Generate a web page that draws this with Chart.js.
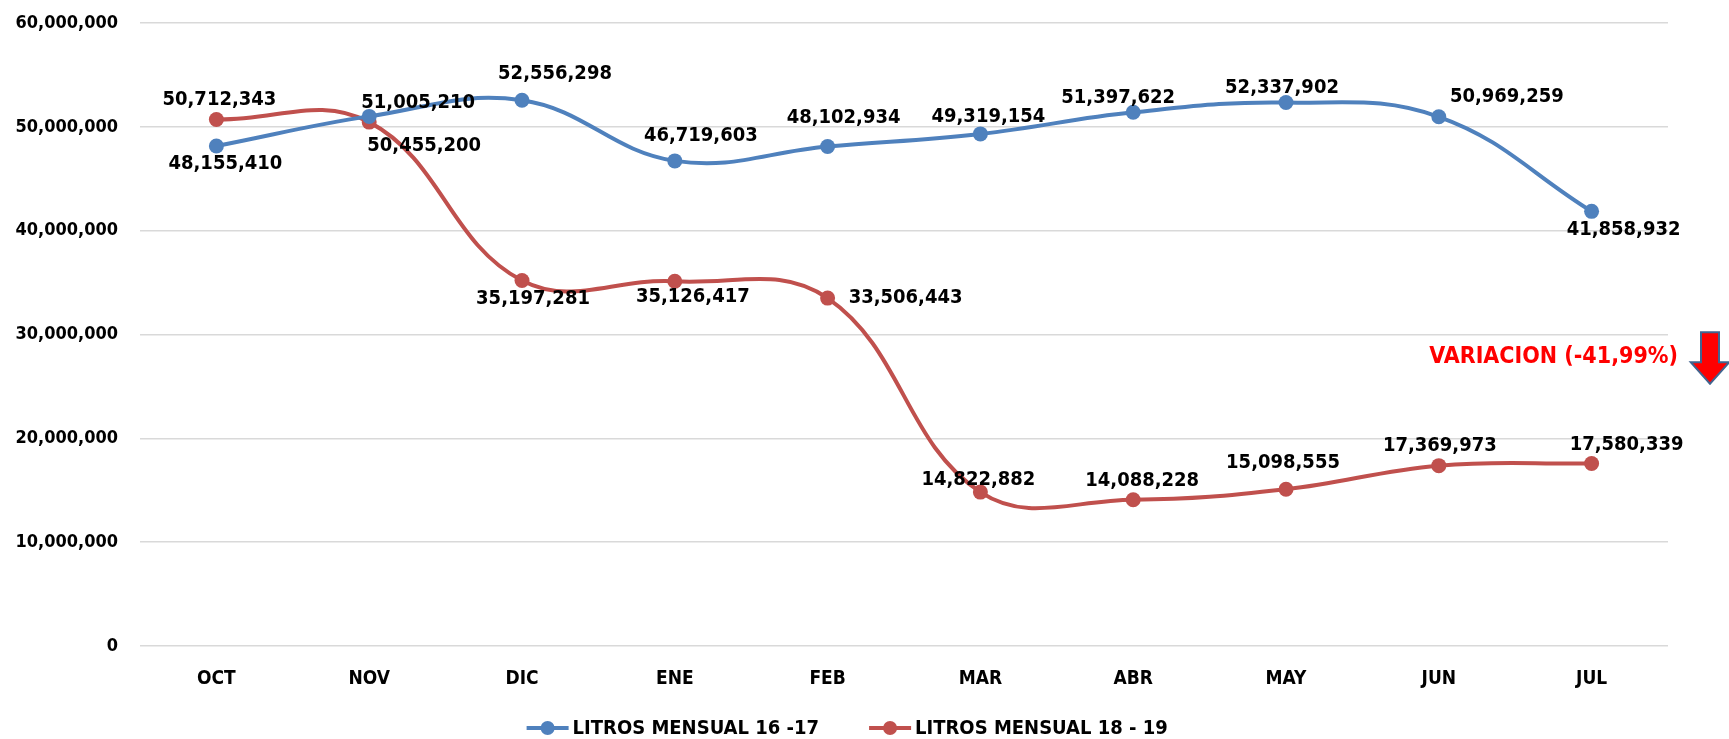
<!DOCTYPE html>
<html>
<head>
<meta charset="utf-8">
<script src="https://cdn.jsdelivr.net/npm/chart.js@4.4.1/dist/chart.umd.min.js"></script>
<style>
    html, body { margin: 0; padding: 0; background: #fff; }
</style>
</head>
<body>
<canvas id="litrosChart" width="1729" height="739"></canvas>
<script>
const months = ['OCT', 'NOV', 'DIC', 'ENE', 'FEB', 'MAR', 'ABR', 'MAY', 'JUN', 'JUL'];
const litros1617 = [48155410, 51005210, 52556298, 46719603, 48102934, 49319154, 51397622, 52337902, 50969259, 41858932];
const litros1819 = [50712343, 50455200, 35197281, 35126417, 33506443, 14822882, 14088228, 15098555, 17369973, 17580339];
const yTicks = [0, 10000000, 20000000, 30000000, 40000000, 50000000, 60000000];
const seriesNames = ['LITROS MENSUAL 16 -17', 'LITROS MENSUAL 18 - 19'];
const variacionText = 'VARIACION (-41,99%)';
const variacionAt = 28000000;

// where each value label sits, relative to its point (px)
const offsets1617 = [[9, 18], [49, -14], [33, -26], [26, -25], [16, -29], [8, -17], [-15, -15], [-4, -15], [68, -20], [32, 18]];
const offsets1819 = [[3, -20], [55, 24], [11, 18], [18, 16], [78, 0], [-2, -12], [9, -19], [-3, -26], [1, -20], [35, -19]];

const FONT = '"DejaVu Sans Condensed", "Liberation Sans Narrow", "DejaVu Sans", sans-serif';
const BLUE = '#4F81BD';
const RED = '#C0504D';

const fmt = v => v.toLocaleString('en-US');

const valueLabels = {
    id: 'valueLabels',
    afterDatasetsDraw(chart) {
        const ctx = chart.ctx;
        ctx.save();
        ctx.font = 'bold 20px ' + FONT;
        ctx.fillStyle = '#000';
        ctx.textAlign = 'center';
        ctx.textBaseline = 'middle';
        chart.data.datasets.forEach((ds, i) => {
            chart.getDatasetMeta(i).data.forEach((pt, j) => {
                const [dx, dy] = ds.labelOffsets[j];
                ctx.fillText(fmt(ds.data[j]), pt.x + dx, pt.y + dy);
            });
        });
        ctx.restore();
    }
};

const bottomLegend = {
    id: 'bottomLegend',
    afterDraw(chart) {
        const ctx = chart.ctx;
        ctx.save();
        ctx.font = 'bold 20px ' + FONT;
        ctx.textBaseline = 'middle';
        ctx.textAlign = 'left';
        const items = chart.data.datasets.map(ds => ({
            text: ds.label, color: ds.borderColor, w: 46 + ctx.measureText(ds.label).width
        }));
        const gap = 50;
        const total = items.reduce((s, it) => s + it.w, 0) + gap * (items.length - 1);
        let x = chart.width * 0.49 - total / 2;
        const y = 728;
        items.forEach(it => {
            ctx.strokeStyle = it.color;
            ctx.lineWidth = 4;
            ctx.beginPath();
            ctx.moveTo(x, y);
            ctx.lineTo(x + 42, y);
            ctx.stroke();
            ctx.fillStyle = it.color;
            ctx.beginPath();
            ctx.arc(x + 21, y, 7, 0, Math.PI * 2);
            ctx.fill();
            ctx.fillStyle = '#000';
            ctx.fillText(it.text, x + 46, y + 1);
            x += it.w + gap;
        });
        ctx.restore();
    }
};

const variacion = {
    id: 'variacion',
    afterDraw(chart) {
        const ctx = chart.ctx;
        const area = chart.chartArea;
        const y = chart.scales.y.getPixelForValue(variacionAt);
        ctx.save();
        ctx.font = 'bold 23px ' + FONT;
        ctx.fillStyle = '#FF0000';
        ctx.textAlign = 'right';
        ctx.textBaseline = 'middle';
        ctx.fillText(variacionText, area.right + 10, y + 2);

        // down arrow
        const ax = area.right + 42;
        const top = y - 22;
        ctx.beginPath();
        ctx.moveTo(ax - 8, top);
        ctx.lineTo(ax + 8, top);
        ctx.lineTo(ax + 8, top + 30);
        ctx.lineTo(ax + 17, top + 30);
        ctx.lineTo(ax, top + 49);
        ctx.lineTo(ax - 17, top + 30);
        ctx.lineTo(ax - 8, top + 30);
        ctx.closePath();
        ctx.lineWidth = 4;
        ctx.strokeStyle = '#41648F';
        ctx.lineJoin = 'miter';
        ctx.stroke();
        ctx.fillStyle = '#FF0000';
        ctx.fill();
        ctx.restore();
    }
};

const ctx = document.getElementById('litrosChart').getContext('2d');
new Chart(ctx, {
    type: 'line',
    data: {
        labels: months,
        datasets: [{
            label: seriesNames[0],
            data: litros1617,
            labelOffsets: offsets1617,
            borderColor: BLUE,
            backgroundColor: BLUE,
            borderWidth: 4,
            pointRadius: 7.5,
            pointBorderWidth: 0,
            pointBackgroundColor: BLUE,
            tension: 0.4
        }, {
            label: seriesNames[1],
            data: litros1819,
            labelOffsets: offsets1819,
            borderColor: RED,
            backgroundColor: RED,
            borderWidth: 4,
            pointRadius: 7.5,
            pointBorderWidth: 0,
            pointBackgroundColor: RED,
            tension: 0.4
        }]
    },
    options: {
        responsive: false,
        animation: false,
        events: [],
        layout: {
            padding: { left: 0, right: 61, top: 23, bottom: 0 }
        },
        plugins: {
            legend: { display: false },
            tooltip: { enabled: false }
        },
        scales: {
            x: {
                offset: true,
                grid: { display: false, drawTicks: false },
                border: { display: false },
                ticks: {
                    padding: 22,
                    color: '#000',
                    font: { family: FONT, size: 19, weight: 'bold' }
                },
                afterFit(scale) { scale.height = 93; }
            },
            y: {
                min: 0,
                max: 60000000,
                grid: { color: '#D9D9D9', lineWidth: 1.5, drawTicks: true, tickLength: 22, tickColor: 'rgba(0,0,0,0)' },
                border: { display: false },
                afterBuildTicks(scale) { scale.ticks = yTicks.map(v => ({ value: v })); },
                ticks: {
                    padding: 0,
                    color: '#000',
                    font: { family: FONT, size: 18, weight: 'bold' },
                    callback: v => fmt(v)
                },
                afterFit(scale) { scale.width = 140; }
            }
        }
    },
    plugins: [valueLabels, bottomLegend, variacion]
});
</script>
</body>
</html>
